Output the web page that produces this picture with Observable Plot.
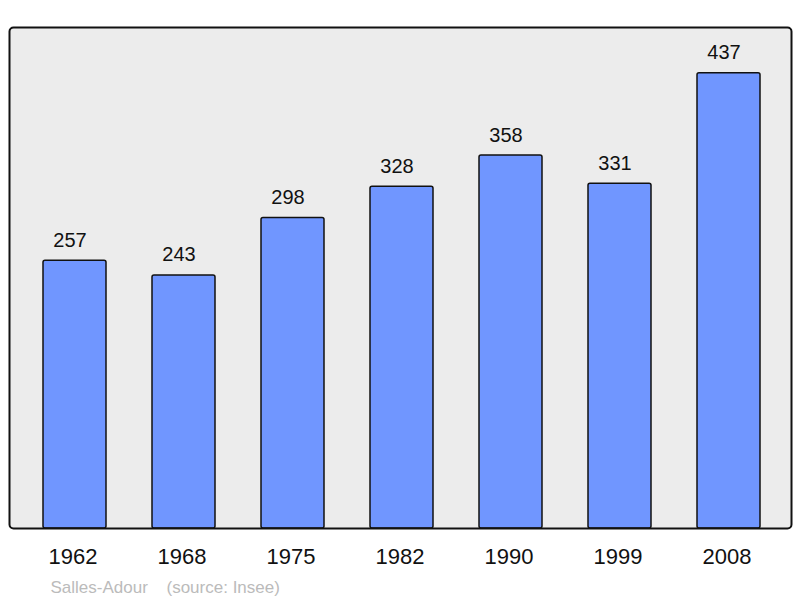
<!DOCTYPE html>
<html>
<head>
<meta charset="utf-8">
<script src="https://cdn.jsdelivr.net/npm/d3@7"></script>
<script src="https://cdn.jsdelivr.net/npm/@observablehq/plot@0.6"></script>
<style>
  html, body { margin: 0; padding: 0; background: #fff; }
  #chart svg { display: block; }
</style>
</head>
<body>
<div id="chart"></div>
<script>
const years = ["1962", "1968", "1975", "1982", "1990", "1999", "2008"];
const population = [257, 243, 298, 328, 358, 331, 437];
const placeName = "Salles-Adour";
const sourceNote = "(source: Insee)";

const data = years.map((y, i) => ({year: y, pop: population[i]}));

const chart = Plot.plot({
  width: 800,
  height: 598,
  marginTop: 27,
  marginBottom: 70,
  marginLeft: 19,
  marginRight: 16,
  style: {fontFamily: "'Liberation Sans', Arial, sans-serif", background: "#fff"},
  x: {domain: years, paddingInner: 0.424, paddingOuter: 0.212, label: null},
  y: {domain: [0, 481], axis: null},
  marks: [
    Plot.frame({fill: "#ececec", stroke: "none", rx: 4, insetLeft: -10, insetRight: -7}),
    Plot.barY(data, {x: "year", y: "pop", fill: "#7096ff", stroke: "#111", strokeWidth: 1.5, rx: 2}),
    Plot.text(data, {x: "year", y: "pop", text: d => String(d.pop), dx: -5, dy: -14, lineAnchor: "bottom", fontSize: 20, fill: "#111"}),
    Plot.frame({fill: "none", stroke: "#111", strokeWidth: 2, rx: 4, insetLeft: -10, insetRight: -7}),
    Plot.axisX({tickSize: 0, tickPadding: 20, fontSize: 22, dx: -2, fill: "#111"}),
    Plot.text([placeName], {frameAnchor: "bottom-left", text: d => d, dx: 31, dy: 64, lineAnchor: "bottom", textAnchor: "start", fontSize: 17, fill: "#bbb"}),
    Plot.text([sourceNote], {frameAnchor: "bottom-left", text: d => d, dx: 147, dy: 64, lineAnchor: "bottom", textAnchor: "start", fontSize: 17, fill: "#bbb"})
  ]
});
document.getElementById("chart").appendChild(chart);
</script>
</body>
</html>
